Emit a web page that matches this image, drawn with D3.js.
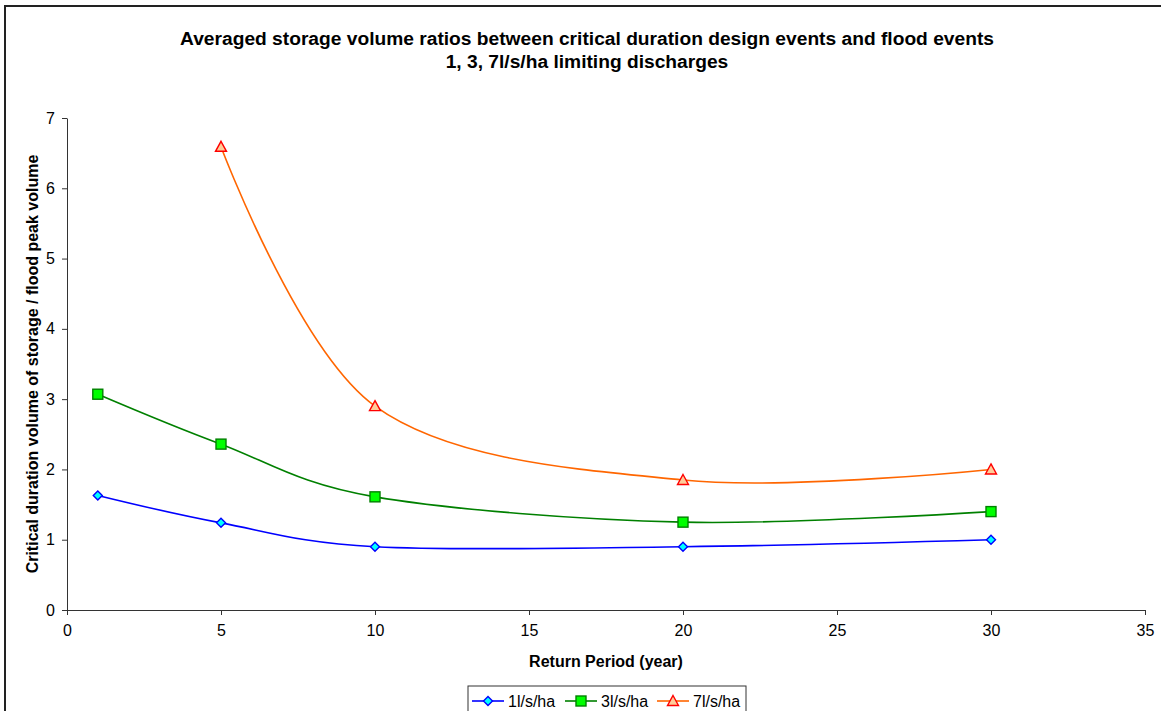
<!DOCTYPE html>
<html>
<head>
<meta charset="utf-8">
<script src="https://cdn.jsdelivr.net/npm/d3@7"></script>
<style>
  body { margin: 0; background: #fff; }
  svg { display: block; font-family: "Liberation Sans", Arial, sans-serif; }
</style>
</head>
<body>
<div id="container"><svg></svg></div>
<script>
let width = 1161;
let height = 711;

// data
let returnPeriods = [1, 5, 10, 20, 30];
let q1 = [1.63, 1.24, 0.90, 0.90, 1.00];
let q3 = [3.07, 2.36, 1.61, 1.25, 1.40];
let q7 = [null, 6.59, 2.90, 1.85, 2.00];
let seriesNames = ["1l/s/ha", "3l/s/ha", "7l/s/ha"];
let xTicks = [0, 5, 10, 15, 20, 25, 30, 35];
let yTicks = [0, 1, 2, 3, 4, 5, 6, 7];

let styles = [
    { line: "#0000ff", fill: "#00ffff", stroke: "#0000ff", shape: "diamond", size: 4.5 },
    { line: "#008000", fill: "#00ff00", stroke: "#008000", shape: "square", size: 5 },
    { line: "#ff6600", fill: "#ffcc99", stroke: "#ff0000", shape: "triangle", size: 4.5 }
];

let series = [q1, q3, q7].map((vals, i) => ({
    name: seriesNames[i],
    style: styles[i],
    points: returnPeriods.map((x, j) => ({ x: x, y: vals[j] })).filter(p => p.y != null)
}));

let svg = d3.select('#container').select('svg')
    .attr('width', width)
    .attr('height', height);

// outer chart frame
svg.append("rect")
    .attr("x", 5).attr("y", 6)
    .attr("width", 1170).attr("height", 720)
    .attr("fill", "none")
    .attr("stroke", "#222")
    .attr("stroke-width", 2);

let x = d3.scaleLinear().domain([0, 35]).range([67, 1145]);
let y = d3.scaleLinear().domain([0, 7]).range([610, 118]);

// title
let title = svg.append("text")
    .attr("text-anchor", "middle")
    .attr("font-weight", "bold")
    .attr("font-size", 19.2)
    .attr("fill", "#000");
title.append("tspan").attr("x", 587).attr("y", 45)
    .text("Averaged storage volume ratios between critical duration design events and flood events");
title.append("tspan").attr("x", 587).attr("y", 68)
    .text("1, 3, 7l/s/ha limiting discharges");

// axes
let xAxis = svg.append("g")
    .attr("transform", `translate(0,${y(0)})`)
    .call(d3.axisBottom(x).tickValues(xTicks).tickFormat(d3.format("d"))
        .tickSize(5).tickPadding(10).tickSizeOuter(0));
let yAxis = svg.append("g")
    .attr("transform", `translate(${x(0)},0)`)
    .call(d3.axisLeft(y).tickValues(yTicks).tickFormat(d3.format("d"))
        .tickSize(5).tickPadding(7).tickSizeOuter(0));

[xAxis, yAxis].forEach(a => {
    a.select(".domain").attr("stroke", "#333");
    a.selectAll(".tick line").attr("stroke", "#333");
    a.selectAll(".tick text")
        .attr("font-size", 16)
        .attr("font-family", "Liberation Sans, Arial, sans-serif")
        .attr("fill", "#000");
});

// axis titles
svg.append("text")
    .attr("x", x(17.5)).attr("y", 667)
    .attr("text-anchor", "middle")
    .attr("font-weight", "bold")
    .attr("font-size", 16)
    .text("Return Period (year)");

svg.append("text")
    .attr("transform", `translate(38,${y(3.5)}) rotate(-90)`)
    .attr("text-anchor", "middle")
    .attr("font-weight", "bold")
    .attr("font-size", 16)
    .text("Critical duration volume of storage / flood peak volume");

// lines
let line = d3.line()
    .x(d => x(d.x))
    .y(d => y(d.y))
    .curve(d3.curveCatmullRom.alpha(0));

function marker(sel, shape, s) {
    if (shape === "diamond") {
        sel.append("path").attr("d", `M0,${-s}L${s},0L0,${s}L${-s},0Z`);
    } else if (shape === "square") {
        sel.append("rect").attr("x", -s).attr("y", -s).attr("width", 2 * s).attr("height", 2 * s);
    } else {
        sel.append("path").attr("d", `M0,${-s - 1}L${s + 1},${s}L${-s - 1},${s}Z`);
    }
}

let plot = svg.append("g");
series.forEach(sr => {
    plot.append("path")
        .datum(sr.points)
        .attr("fill", "none")
        .attr("stroke", sr.style.line)
        .attr("stroke-width", 1.6)
        .attr("d", line);

    plot.append("g")
        .selectAll("g")
        .data(sr.points)
        .join("g")
        .attr("transform", d => `translate(${x(d.x)},${y(d.y)})`)
        .attr("fill", sr.style.fill)
        .attr("stroke", sr.style.stroke)
        .attr("stroke-width", 1.4)
        .each(function () {
            marker(d3.select(this), sr.style.shape, sr.style.size);
        });
});

// legend
let legend = svg.append("g");
legend.append("rect")
    .attr("x", 468).attr("y", 686)
    .attr("width", 278).attr("height", 40)
    .attr("fill", "#fff")
    .attr("stroke", "#333")
    .attr("stroke-width", 1);

let legendX = [472, 565, 657];
series.forEach((sr, i) => {
    let g = legend.append("g").attr("transform", `translate(${legendX[i]},701)`);
    g.append("line")
        .attr("x1", 0).attr("x2", 32)
        .attr("stroke", sr.style.line)
        .attr("stroke-width", 1.6);
    let m = g.append("g")
        .attr("transform", "translate(16,0)")
        .attr("fill", sr.style.fill)
        .attr("stroke", sr.style.stroke)
        .attr("stroke-width", 1.4);
    marker(m, sr.style.shape, sr.style.size);
    g.append("text")
        .attr("x", 36).attr("y", 6)
        .attr("font-size", 16)
        .attr("fill", "#000")
        .text(sr.name);
});
</script>
</body>
</html>
